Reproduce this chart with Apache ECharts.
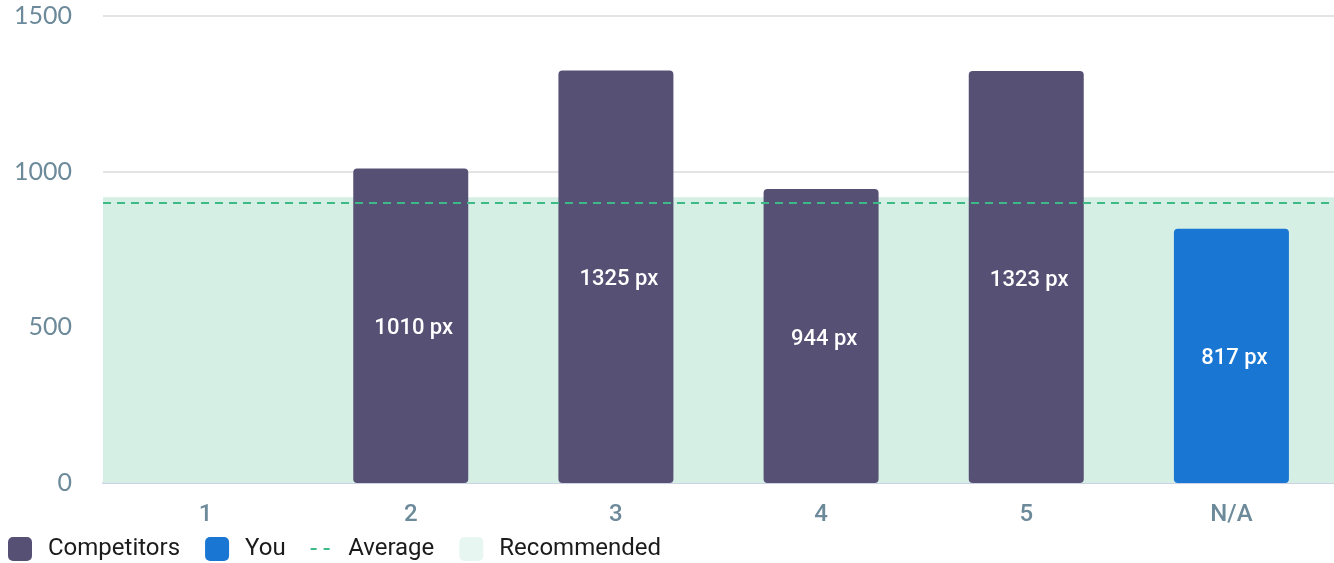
<!DOCTYPE html>
<html>
<head>
<meta charset="utf-8">
<script src="https://cdn.jsdelivr.net/npm/echarts@6/dist/echarts.min.js"></script>
<style>
html,body{margin:0;padding:0;background:#fff;}
#chart{width:1334px;height:563px;}
</style>
</head>
<body>
<div id="chart"></div>
<script>
const categories = ['1', '2', '3', '4', '5', 'N/A'];
const competitors = ['-', 1010, 1325, 944, 1323, '-'];
const you = ['-', '-', '-', '-', '-', 817];
const averageValue = 900;
const recommendedMax = 918;
const yTicks = { min: 0, max: 1500, interval: 500 };

const chart = echarts.init(document.getElementById('chart'));
const labelStyle = {
  show: true,
  position: 'inside',
  offset: [3, 3],
  color: '#ffffff',
  fontFamily: 'Roboto',
  fontSize: 22,
  fontWeight: 500,
  formatter: p => p.value + ' px'
};
const sq = 'path://M5,0H19A5,5 0 0 1 24,5V19A5,5 0 0 1 19,24H5A5,5 0 0 1 0,19V5A5,5 0 0 1 5,0Z';
chart.setOption({
  animation: false,
  grid: { left: 103, right: 0, top: 16, bottom: 80 },
  legend: {
    left: 3,
    bottom: -3,
    itemWidth: 24,
    itemHeight: 24,
    itemGap: 25,
    textStyle: { fontFamily: 'Roboto', fontSize: 24, color: '#1b1b1b', padding: [0, 0, 0, 11] },
    data: [
      { name: 'Competitors', icon: sq },
      { name: 'You', icon: sq },
      { name: 'Average', icon: 'path://M0,11H6V13H0Z M13,11H19V13H13Z M0,0H0.01V0.01H0Z M0,24H0.01V24.01H0Z' },
      { name: 'Recommended', icon: sq }
    ]
  },
  xAxis: {
    type: 'category',
    data: categories,
    axisTick: { show: false },
    axisLine: { show: true, lineStyle: { color: '#cdd1e6', width: 2 } },
    axisLabel: { fontFamily: 'Roboto', fontSize: 24, fontWeight: 500, color: '#6c8a9a', margin: 20 }
  },
  yAxis: {
    type: 'value',
    min: yTicks.min,
    max: yTicks.max,
    interval: yTicks.interval,
    axisLine: { show: false },
    axisTick: { show: false },
    splitLine: { lineStyle: { color: '#e4e4e4', width: 2 } },
    axisLabel: { fontFamily: 'Lato', fontSize: 25, color: '#6c8a9a', margin: 31, formatter: v => String(v) }
  },
  series: [
    {
      name: 'Recommended',
      type: 'line',
      data: [],
      itemStyle: { color: '#e7f6f0' },
      markArea: {
        silent: true,
        itemStyle: { color: '#d5efe4' },
        data: [[{ yAxis: 0, x: 103 }, { yAxis: recommendedMax, x: 1334 }]]
      },
      z: 1
    },
    {
      name: 'Average',
      type: 'line',
      data: [],
      itemStyle: { color: '#3dba85' },
      markLine: {
        silent: true,
        symbol: ['none', 'none'],
        label: { show: false },
        lineStyle: { color: '#3dba85', type: [8, 6], width: 2 },
        data: [{ yAxis: averageValue }]
      },
      z: 2
    },
    {
      name: 'Competitors',
      type: 'bar',
      data: competitors,
      barWidth: 115,
      barGap: '-100%',
      itemStyle: { color: '#575075', borderRadius: 4 },
      label: labelStyle,
      z: 3
    },
    {
      name: 'You',
      type: 'bar',
      data: you,
      barWidth: 115,
      barGap: '-100%',
      itemStyle: { color: '#1976d2', borderRadius: 4 },
      label: labelStyle,
      z: 3
    }
  ]
});
</script>
</body>
</html>
